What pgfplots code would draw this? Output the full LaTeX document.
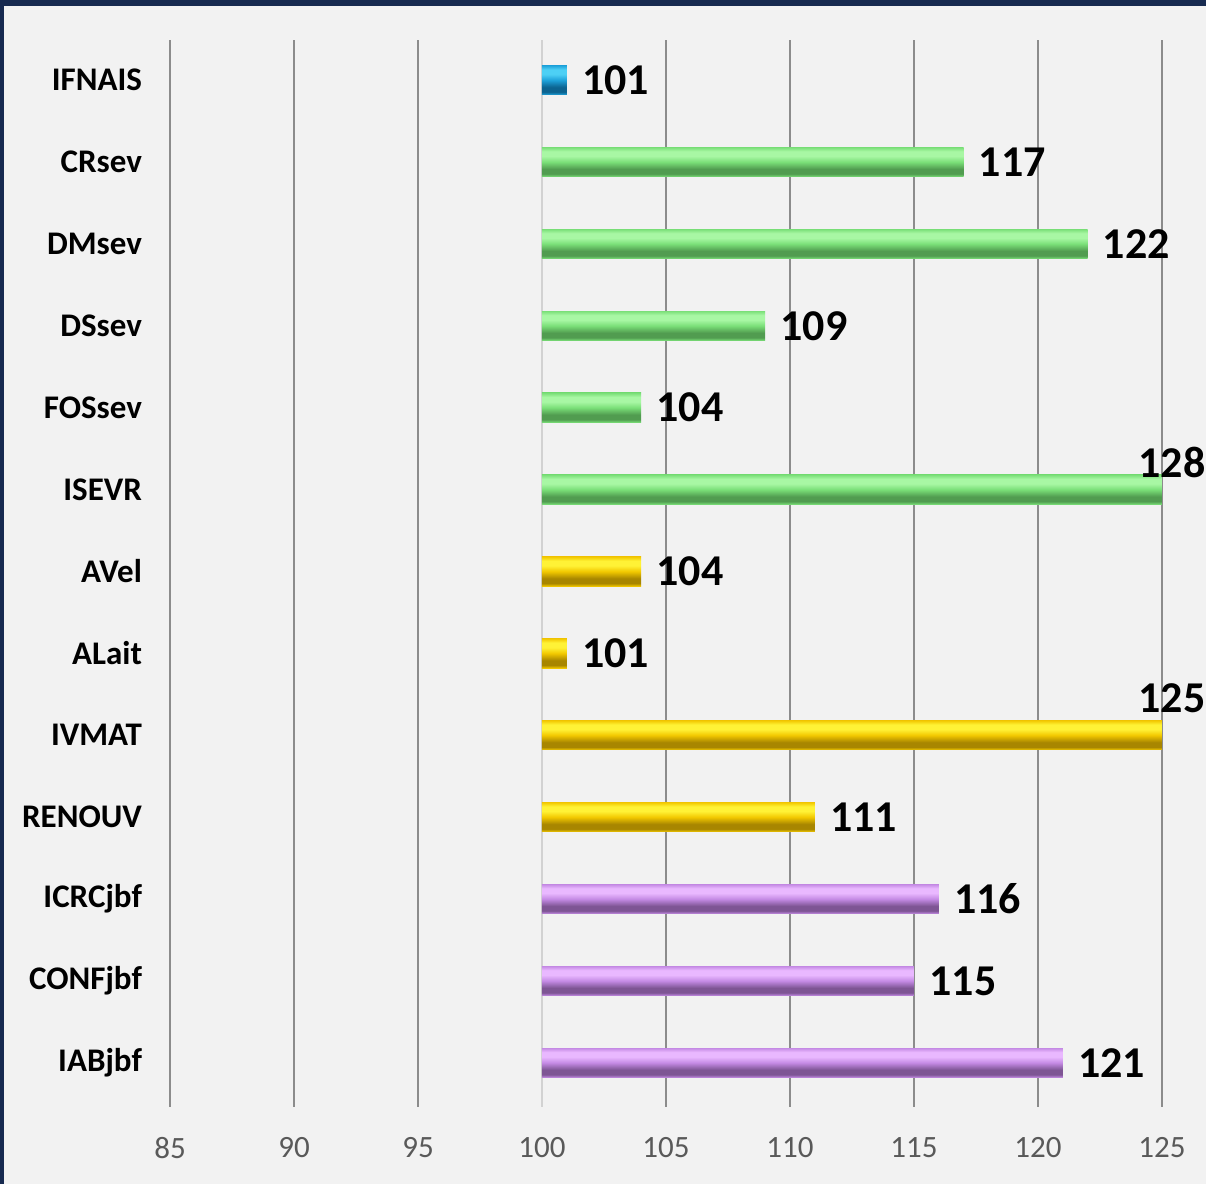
\documentclass[border=0pt]{standalone}
\usepackage{pgfplots}
\pgfplotsset{compat=1.18}
\usepackage{fontspec}
\setmainfont{Carlito}
\definecolor{navy}{HTML}{172A50}
\definecolor{bg}{HTML}{F2F2F2}
\definecolor{gridc}{HTML}{8C8C8C}
\definecolor{tickc}{HTML}{595959}
% green
\definecolor{glight}{HTML}{A8F7A4}
\definecolor{gmid}{HTML}{7ADF78}
\definecolor{gdark}{HTML}{519C50}
% gold
\definecolor{ylight}{HTML}{FFF236}
\definecolor{ymid}{HTML}{F2C800}
\definecolor{ydark}{HTML}{A88600}
% purple
\definecolor{plight}{HTML}{E9B8FF}
\definecolor{pmid}{HTML}{C48AE4}
\definecolor{pdark}{HTML}{7E5594}
% blue
\definecolor{blight}{HTML}{4DD0F5}
\definecolor{bmid}{HTML}{1EA2DA}
\definecolor{bdark}{HTML}{0C6390}
\pgfdeclareverticalshading{greenbar}{100bp}{color(0bp)=(gmid); color(25bp)=(gmid); color(30bp)=(gdark); color(38bp)=(gdark); color(50bp)=(gmid); color(60bp)=(glight); color(68bp)=(glight); color(75bp)=(gmid); color(100bp)=(gmid)}
\pgfdeclareverticalshading{goldbar}{100bp}{color(0bp)=(ymid); color(25bp)=(ymid); color(30bp)=(ydark); color(38bp)=(ydark); color(50bp)=(ymid); color(60bp)=(ylight); color(68bp)=(ylight); color(75bp)=(ymid); color(100bp)=(ymid)}
\pgfdeclareverticalshading{purplebar}{100bp}{color(0bp)=(pmid); color(25bp)=(pmid); color(30bp)=(pdark); color(38bp)=(pdark); color(50bp)=(pmid); color(60bp)=(plight); color(68bp)=(plight); color(75bp)=(pmid); color(100bp)=(pmid)}
\pgfdeclareverticalshading{bluebar}{100bp}{color(0bp)=(bmid); color(25bp)=(bmid); color(30bp)=(bdark); color(38bp)=(bdark); color(50bp)=(bmid); color(60bp)=(blight); color(68bp)=(blight); color(75bp)=(bmid); color(100bp)=(bmid)}
\pgfplotsset{/pgf/number format/assume math mode=true}
\begin{document}
\begin{tikzpicture}
\fill[navy] (-85pt,-38.5pt) rectangle (518pt,553.5pt);
\fill[bg] (-83pt,-38.5pt) rectangle (518pt,550.5pt);
\begin{axis}[
  at={(0pt,0pt)}, anchor=south west,
  scale only axis,
  width=496pt, height=533.5pt,
  x coord trafo/.code={\pgfmathparse{#1-100}},
  x coord inv trafo/.code={\pgfmathparse{#1+100}},
  xmin=85, xmax=125,
  ymin=-0.54, ymax=12.49,
  axis line style={draw=none},
  major tick length=0pt,
  xtick={85,90,95,105,110,115,120,125},
  xticklabels={85,90,95,105,110,115,120,125},
  extra x ticks={100},
  extra x tick labels={100},
  extra x tick style={major grid style={color=lightgray!70, line width=1pt}},
  xmajorgrids,
  major grid style={color=gridc, line width=1pt},
  xticklabel style={font=\fontsize{15.5}{18}\selectfont, text=tickc, yshift=-11.5pt},
  ytick={0,1,2,3,4,5,6,7,8,9,10,11,12},
  yticklabels={IABjbf,CONFjbf,ICRCjbf,RENOUV,IVMAT,ALait,AVel,ISEVR,FOSsev,DSsev,DMsev,CRsev,IFNAIS},
  yticklabel style={font=\bfseries\fontsize{16.5}{20}\selectfont, text=black, xshift=-10.5pt},
  xbar, bar width=0.36, bar shift=0pt,
  point meta=explicit,
  nodes near coords,
  nodes near coords align={horizontal},
  every node near coord/.append style={font=\bfseries\fontsize{22}{26}\selectfont, text=black, inner sep=0pt, xshift=7.5pt},
  clip=false,
]
% IFNAIS
\addplot[xbar, draw=none, shading=bluebar] coordinates {(101,12) [101]};
% severity group
\addplot[xbar, draw=none, shading=greenbar] coordinates {(117,11) [117]};
\addplot[xbar, draw=none, shading=greenbar] coordinates {(122,10) [122]};
\addplot[xbar, draw=none, shading=greenbar] coordinates {(109,9) [109]};
\addplot[xbar, draw=none, shading=greenbar] coordinates {(104,8) [104]};
\addplot[xbar, draw=none, shading=greenbar, every node near coord/.append style={anchor=base, xshift=-2.5pt, yshift=6pt}] coordinates {(125,7) [128]};
% gold group
\addplot[xbar, draw=none, shading=goldbar] coordinates {(104,6) [104]};
\addplot[xbar, draw=none, shading=goldbar] coordinates {(101,5) [101]};
\addplot[xbar, draw=none, shading=goldbar, every node near coord/.append style={anchor=base, xshift=-2.5pt, yshift=11.5pt}] coordinates {(125,4) [125]};
\addplot[xbar, draw=none, shading=goldbar] coordinates {(111,3) [111]};
% purple group
\addplot[xbar, draw=none, shading=purplebar] coordinates {(116,2) [116]};
\addplot[xbar, draw=none, shading=purplebar] coordinates {(115,1) [115]};
\addplot[xbar, draw=none, shading=purplebar] coordinates {(121,0) [121]};
\end{axis}
\pgfresetboundingbox
\useasboundingbox (-85pt,-38.5pt) rectangle (518pt,553.5pt);
\end{tikzpicture}
\end{document}
